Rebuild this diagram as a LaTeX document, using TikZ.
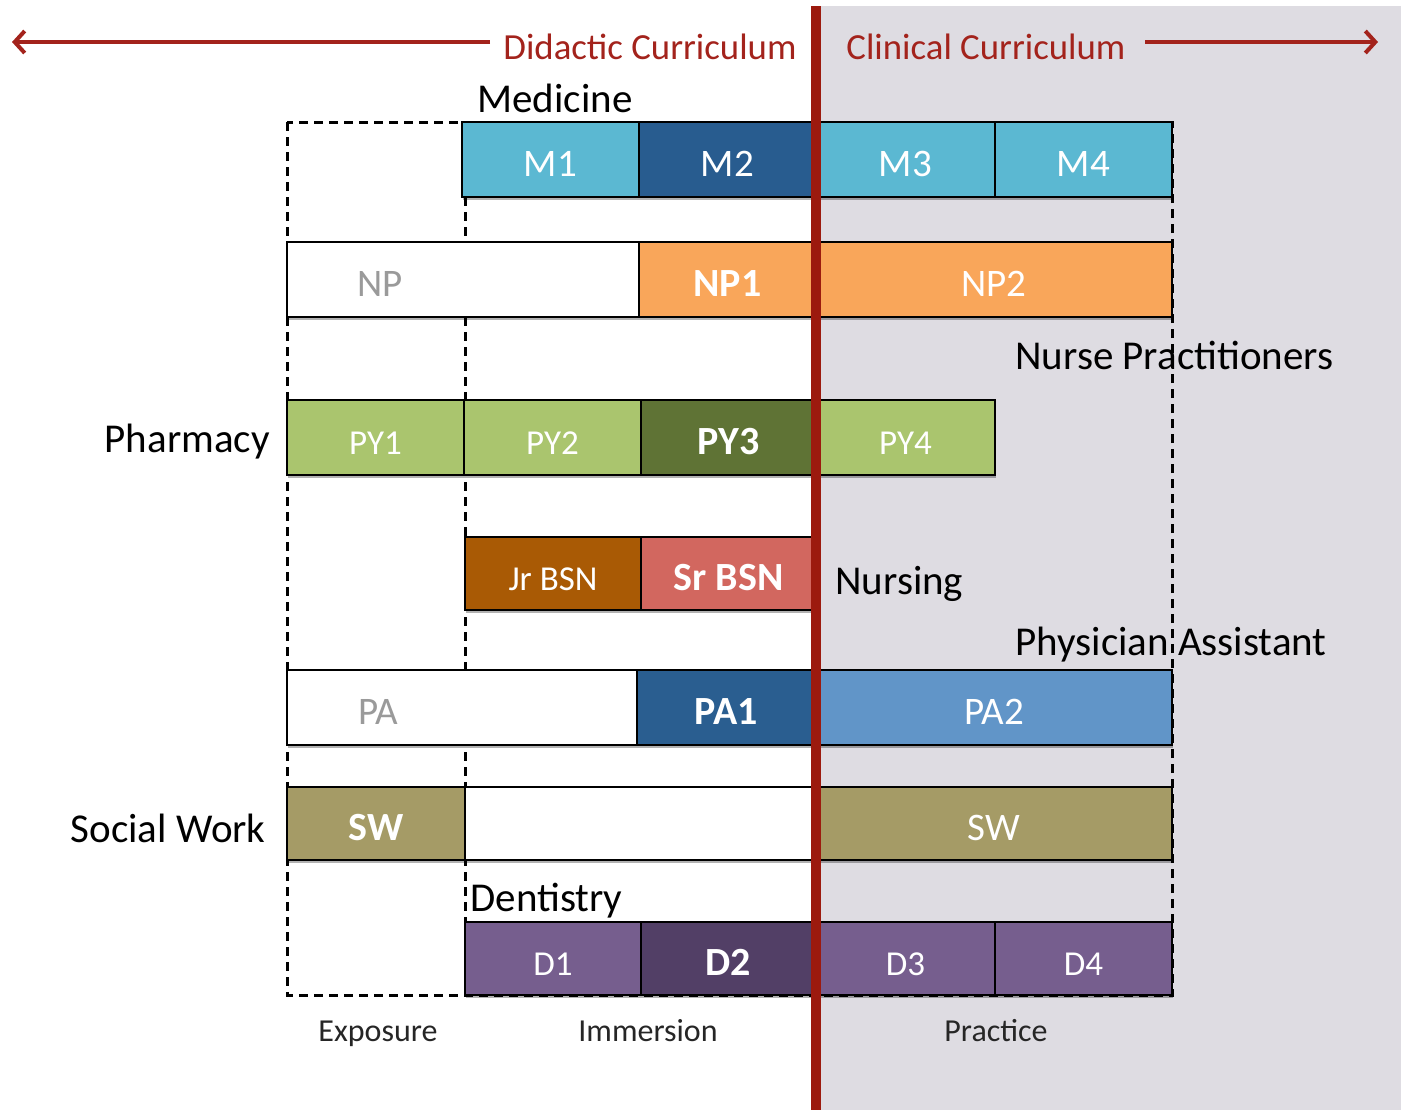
\documentclass[tikz,border=0pt]{standalone}
\usepackage{fontspec}
\setmainfont{Carlito}
\usetikzlibrary{arrows.meta,shadows}
\definecolor{redline}{HTML}{9C1A0E}
\definecolor{redtxt}{HTML}{A3231C}
\definecolor{bggrey}{HTML}{DEDCE2}
\definecolor{mlight}{HTML}{5BB8D2}
\definecolor{mdark}{HTML}{285C8F}
\definecolor{nporange}{HTML}{F9A65A}
\definecolor{pylight}{HTML}{AAC56E}
\definecolor{pydark}{HTML}{5F7335}
\definecolor{jrbsn}{HTML}{A95A05}
\definecolor{srbsn}{HTML}{D2675F}
\definecolor{padark}{HTML}{2A5E90}
\definecolor{palight}{HTML}{6195C8}
\definecolor{swolive}{HTML}{A59B66}
\definecolor{dlight}{HTML}{765E8E}
\definecolor{ddark}{HTML}{523F66}
\definecolor{greytxt}{HTML}{9A9A9A}
\newcommand{\blk}[7]{\node[blk,#6,minimum width={(#4-#2)*0.5pt},minimum height={(#5-#3)*0.5pt}] (#1) at ({(#2+#4)/2},{(#3+#5)/2}) {#7};}
\tikzset{
  blk/.style={draw=black, line width=1.2pt, inner sep=0pt, outer sep=0pt, text=white,
    font=\fontsize{19.5}{20}\selectfont, text height=17pt, text depth=0pt,
    drop shadow={shadow xshift=0.6pt, shadow yshift=-1.4pt, opacity=0.3, fill=black}},
  sm/.style={font=\fontsize{17.5}{18}\selectfont},
  bd/.style={font=\fontsize{20}{22}\selectfont\bfseries},
  ghost/.style={fill=white, text=greytxt},
  lbl/.style={inner sep=0pt, font=\fontsize{20.5}{22}\selectfont, text=black},
  smalllbl/.style={inner sep=0pt, font=\fontsize{16}{18}\selectfont, text=black!85},
  hdr/.style={inner sep=0pt, font=\fontsize{18.4}{20}\selectfont, text=redtxt},
  redarrow/.style={draw=redtxt, line width=2pt, -{Straight Barb[length=5pt,width=11pt,line width=2pt]}},
  dashframe/.style={draw=black, line width=1.5pt, dash pattern=on 4.5pt off 3pt},
}
\begin{document}
\begin{tikzpicture}[x=0.5pt,y=-0.5pt]
\useasboundingbox (0,0) rectangle (1401,1110);
\fill[bggrey] (816,6) rectangle (1401,1110);
% dashed frame
\draw[dashframe] (287,122) rectangle (1172,995);
\draw[dashframe] (465,122) -- (465,995);
% headers and arrows
\node[hdr, anchor=base west] (did) at (503,59) {Didactic Curriculum};
\node[hdr, anchor=base west] (cli) at (846,59) {Clinical Curriculum};
\coordinate (la0) at (490,42);
\coordinate (la1) at (12,42);
\coordinate (ra0) at (1145,42);
\coordinate (ra1) at (1378,42);
\draw[redarrow] (la0) -- (la1);
\draw[redarrow] (ra0) -- (ra1);
% Medicine
\blk{m1}{462}{122}{639}{197}{fill=mlight}{M1}
\blk{m2}{639}{122}{816}{197}{fill=mdark}{M2}
\blk{m3}{816}{122}{995}{197}{fill=mlight}{M3}
\blk{m4}{995}{122}{1172}{197}{fill=mlight}{M4}
% Nurse practitioners
\blk{np}{287}{242}{639}{317}{ghost}{\hspace*{-83pt}NP}
\blk{np1}{639}{242}{816}{317}{fill=nporange,bd}{NP1}
\blk{np2}{816}{242}{1172}{317}{fill=nporange}{NP2}
% Pharmacy
\blk{py1}{287}{400}{464}{475}{fill=pylight,sm}{PY1}
\blk{py2}{464}{400}{641}{475}{fill=pylight,sm}{PY2}
\blk{py3}{641}{400}{816}{475}{fill=pydark,bd}{PY3}
\blk{py4}{816}{400}{995}{475}{fill=pylight,sm}{PY4}
% Nursing
\blk{jr}{465}{537}{641}{610}{fill=jrbsn,sm}{Jr BSN}
\blk{sr}{641}{537}{816}{610}{fill=srbsn,bd}{Sr BSN}
% PA
\blk{pa}{287}{670}{637}{745}{ghost}{\hspace*{-84pt}PA}
\blk{pa1}{637}{670}{816}{745}{fill=padark,bd}{PA1}
\blk{pa2}{816}{670}{1172}{745}{fill=palight}{PA2}
% Social work
\blk{sw1}{287}{787}{465}{860}{fill=swolive,bd}{SW}
\blk{swmid}{465}{787}{816}{860}{fill=white}{}
\blk{sw2}{816}{787}{1172}{860}{fill=swolive}{SW}
% Dentistry
\blk{d1}{465}{922}{641}{995}{fill=dlight,sm}{D1}
\blk{d2}{641}{922}{816}{995}{fill=ddark,bd}{D2}
\blk{d3}{816}{922}{995}{995}{fill=dlight,sm}{D3}
\blk{d4}{995}{922}{1172}{995}{fill=dlight,sm}{D4}
% labels
\node[lbl, anchor=base west] (med) at (477,112) {Medicine};
\node[lbl, anchor=base west] (nprac) at (1015,369) {Nurse Practitioners};
\node[lbl, anchor=base east] (pharm) at (270,452) {Pharmacy};
\node[lbl, anchor=base west] (nurs) at (835,594) {Nursing};
\node[lbl, anchor=base west] (phys) at (1015,655) {Physician Assistant};
\node[lbl, anchor=base east] (socw) at (266,842) {Social Work};
\node[lbl, anchor=base west] (dent) at (470,911) {Dentistry};
\node[smalllbl, anchor=base] (expo) at (378,1041) {Exposure};
\node[smalllbl, anchor=base] (imm) at (648,1041) {Immersion};
\node[smalllbl, anchor=base] (prac) at (996,1041) {Practice};
% red divider
\coordinate (rl0) at (816,6);
\coordinate (rl1) at (816,1110);
\draw[redline, line width=5pt] (rl0) -- (rl1);
\end{tikzpicture}
\end{document}
